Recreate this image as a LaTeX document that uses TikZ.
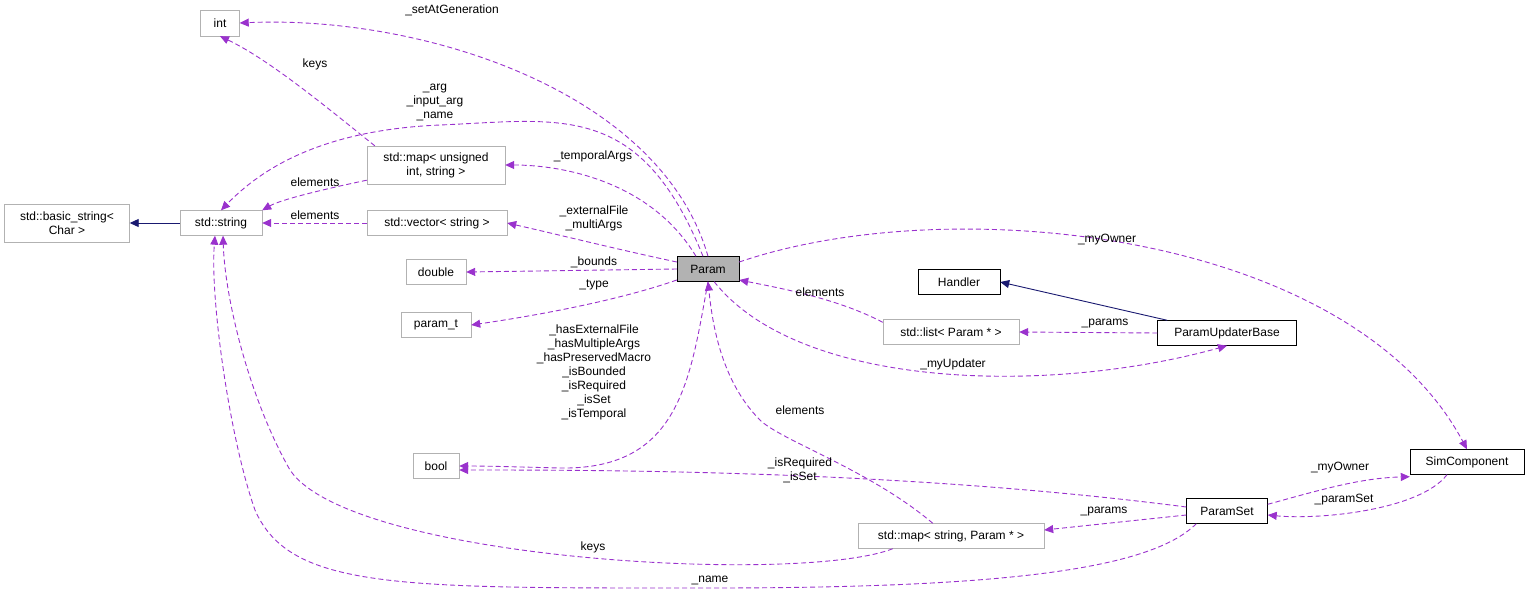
\documentclass[tikz,border=0pt]{standalone}
\usepackage{fontspec}
\setmainfont{Liberation Sans}
\usetikzlibrary{arrows.meta}
\definecolor{edgep}{HTML}{9A32CD}
\definecolor{navy}{HTML}{191970}
\begin{document}
\begin{tikzpicture}[x=1pt,y=-1pt,font=\fontsize{12}{14}\selectfont,
 gbox/.style={draw=black!30,fill=white,inner sep=3pt,align=center},
 bbox/.style={draw=black,fill=white,inner sep=3pt,align=center},
 e/.style={draw=edgep,line width=0.9pt,dash pattern=on 5pt off 3pt,-{Triangle[length=9pt,width=8pt,fill=edgep]}},
 s/.style={draw=navy,line width=0.9pt,-{Triangle[length=9pt,width=8pt,fill=navy]}},
 l/.style={align=center,inner sep=0pt,font=\fontsize{12}{14}\selectfont}]
\useasboundingbox (0,0) rectangle (1529,595);
\node[gbox,minimum width=39,minimum height=26] (int) at (220,23) {int};
\node[gbox,minimum width=138,minimum height=38] (mapu) at (436,165) {std::map\textless{} unsigned\\int, string \textgreater};
\node[gbox,minimum width=125,minimum height=38] (bstr) at (67,223) {std::basic\_string\textless\\Char \textgreater};
\node[gbox,minimum width=82,minimum height=25] (str) at (221,223) {std::string};
\node[gbox,minimum width=140,minimum height=25] (vec) at (437,223) {std::vector\textless{} string \textgreater};
\node[gbox,minimum width=60,minimum height=25] (dbl) at (436,272) {double};
\node[draw=black,fill=black!30,minimum width=62,minimum height=25] (par) at (708,269) {Param};
\node[bbox,minimum width=82,minimum height=25] (hnd) at (959,282) {Handler};
\node[gbox,minimum width=70,minimum height=25] (pt) at (436,325) {param\_t};
\node[gbox,minimum width=136,minimum height=25] (lst) at (951,332) {std::list\textless{} Param * \textgreater};
\node[bbox,minimum width=139,minimum height=25] (pub) at (1227,333) {ParamUpdaterBase};
\node[gbox,minimum width=46,minimum height=25] (bool) at (436,466) {bool};
\node[bbox,minimum width=114,minimum height=25] (sim) at (1467,462) {SimComponent};
\node[bbox,minimum width=81,minimum height=25] (ps) at (1227,511) {ParamSet};
\node[gbox,minimum width=186,minimum height=25] (maps) at (951,536) {std::map\textless{} string, Param * \textgreater};

\draw[s] (str.west) -- (bstr.east);
\coordinate (p1) at ([xshift=10pt]pub.north west);
\draw[s] (p1) -- (hnd.east);

\draw[e] (par.north) .. controls (660,90) and (420,15) .. (int.east);
\node[l] at (452,10) {\_setAtGeneration};
\coordinate (m1) at ([xshift=8pt]mapu.north west);
\draw[e] (m1) .. controls (330,110) and (270,60) .. (int.south);
\node[l] at (315,64) {keys};
\coordinate (q1) at ([xshift=-5pt]par.north);
\draw[e] (q1) .. controls (640,100) and (560,120) .. (440,125) .. controls (320,130) and (260,170) .. (str.north);
\node[l] at (435,102) {\_arg\\\_input\_arg\\\_name};
\coordinate (q2) at ([xshift=-12pt]par.north);
\draw[e] (q2) .. controls (650,180) and (560,165) .. (mapu.east);
\node[l] at (593,156) {\_temporalArgs};
\coordinate (m2) at ([yshift=4pt]mapu.south west);
\draw[e] (m2) .. controls (320,190) and (280,200) .. (str.north east);
\node[l] at (315,182) {elements};
\draw[e] (vec.west) -- (str.east);
\node[l] at (315,215) {elements};
\coordinate (q3) at ([yshift=7pt]par.west);
\draw[e] (q3) .. controls (620,250) and (560,235) .. (vec.east);
\node[l] at (594,218) {\_externalFile\\\_multiArgs};
\draw[e] (par.west) -- (dbl.east);
\node[l] at (594,262) {\_bounds};
\coordinate (q5) at ([yshift=-11pt]par.west);
\draw[e] (q5) .. controls (620,300) and (540,315) .. (pt.east);
\node[l] at (594,285) {\_type};
\draw[e] (par.south) .. controls (690,380) and (680,470) .. (560,468) .. controls (520,467) and (490,466) .. (bool.east);
\node[l] at (594,372) {\_hasExternalFile\\\_hasMultipleArgs\\\_hasPreservedMacro\\\_isBounded\\\_isRequired\\\_isSet\\\_isTemporal};
\coordinate (l1) at ([yshift=-3pt]lst.north west);
\draw[e] (l1) .. controls (840,300) and (790,290) .. ([yshift=-11pt]par.east);
\node[l] at (820,292) {elements};
\draw[e] (pub.west) -- (lst.east);
\node[l] at (1105,324) {\_params};
\coordinate (q6) at ([xshift=-25pt]par.south east);
\draw[e] (q6) .. controls (800,390) and (1050,395) .. (pub.south);
\node[l] at (953,364) {\_myUpdater};
\coordinate (q7) at ([yshift=7pt]par.east);
\draw[e] (q7) .. controls (950,190) and (1350,230) .. (sim.north);
\node[l] at (1107,240) {\_myOwner};
\coordinate (s1) at ([xshift=75pt]maps.north west);
\draw[e] (s1) .. controls (870,470) and (780,440) .. (760,420) .. controls (720,380) and (712,320) .. (par.south);
\node[l] at (800,410) {elements};
\coordinate (s2) at ([xshift=35pt]maps.south west);
\draw[e] (s2) .. controls (800,585) and (350,560) .. (290,470) .. controls (250,400) and (225,300) .. ([xshift=2pt]str.south);
\node[l] at (593,547) {keys};
\coordinate (ps1) at ([yshift=4pt]ps.west);
\draw[e] (ps1) .. controls (900,470) and (600,470) .. ([yshift=-4pt]bool.east);
\node[l] at (800,470) {\_isRequired\\\_isSet};
\coordinate (ps2) at ([yshift=-4pt]ps.west);
\draw[e] (ps2) -- ([yshift=6pt]maps.east);
\node[l] at (1104,512) {\_params};
\coordinate (ps3) at ([yshift=-6pt]ps.north east);
\draw[e] (ps3) .. controls (1320,490) and (1360,478) .. ([yshift=-2pt]sim.south west);
\node[l] at (1340,468) {\_myOwner};
\coordinate (sm1) at ([xshift=-20pt]sim.south);
\draw[e] (sm1) .. controls (1420,510) and (1320,520) .. ([yshift=-4pt]ps.east);
\node[l] at (1344,500) {\_paramSet};
\coordinate (ps4) at ([xshift=10pt]ps.south west);
\draw[e] (ps4) .. controls (1150,570) and (1000,588) .. (710,588) .. controls (400,588) and (290,590) .. (255,510) .. controls (230,440) and (210,300) .. ([xshift=-6pt]str.south);
\node[l] at (710,580) {\_name};
\end{tikzpicture}
\end{document}
